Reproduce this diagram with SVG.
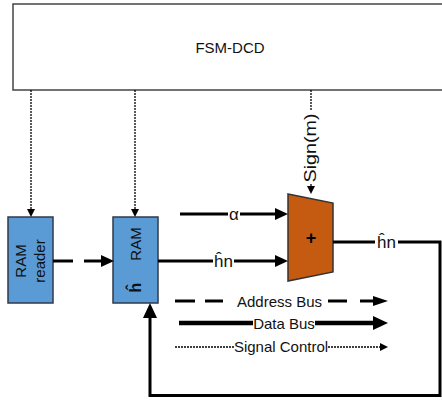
<svg xmlns="http://www.w3.org/2000/svg" width="442" height="401" viewBox="0 0 442 401">
<style>
text{font-family:"Liberation Sans",Arial,sans-serif;fill:#111;}
.t15{font-size:15px;}
.lbl{font-size:17px;}
.data{stroke:#000;stroke-width:3;fill:none;}
.thick{stroke:#000;stroke-width:4.5;fill:none;}
.dash{stroke:#000;stroke-width:3;fill:none;}
.ctl{stroke:#000;stroke-width:1.3;stroke-dasharray:2 1;fill:none;}
.ram{fill:#5B9BD5;stroke:#2F3A4A;stroke-width:1.5;}
</style>
<defs>
<marker id="aCtl" markerUnits="userSpaceOnUse" markerWidth="8" markerHeight="8" refX="0" refY="4" orient="auto"><path d="M0,0L8,4L0,8z" fill="#000"/></marker>
<marker id="aData" markerUnits="userSpaceOnUse" markerWidth="14" markerHeight="12" refX="0" refY="6" orient="auto"><path d="M0,0L13,6L0,12z" fill="#000"/></marker>
<marker id="aBig" markerUnits="userSpaceOnUse" markerWidth="16" markerHeight="14" refX="0" refY="7" orient="auto"><path d="M0,0L15,7L0,14z" fill="#000"/></marker>
<marker id="aAddr" markerUnits="userSpaceOnUse" markerWidth="16" markerHeight="10" refX="0" refY="5" orient="auto"><path d="M0,0L15,5L0,10z" fill="#000"/></marker>
</defs>

<g id="fsm-dcd">
<rect x="13" y="4" width="440" height="86" fill="#fff" stroke="#444" stroke-width="1.5"/>
<text class="t15" x="230" y="53" text-anchor="middle">FSM-DCD</text>
</g>

<g id="ram-reader">
<rect class="ram" x="8" y="217" width="45" height="86"/>
<text class="t15" transform="rotate(-90 26 261)" x="26" y="261" text-anchor="middle">RAM</text>
<text class="t15" transform="rotate(-90 44.5 261)" x="44.5" y="261" text-anchor="middle">reader</text>
</g>

<g id="ram">
<rect class="ram" x="113" y="217" width="45" height="86"/>
<text class="t15" transform="rotate(-90 140.5 244)" x="140.5" y="244" text-anchor="middle">RAM</text>
<text transform="rotate(-90 141 287.5)" x="141" y="287.5" text-anchor="middle" style="font-size:16px;font-weight:bold;">ĥ</text>
</g>

<g id="adder">
<path d="M288,194L333,203L333,272L288,281z" fill="#C55A11" stroke="#333" stroke-width="1.5"/>
<text x="311" y="244" text-anchor="middle" style="font-size:18px;font-weight:bold;fill:#000;">+</text>
</g>

<g id="connectors">
<line class="ctl" x1="31" y1="90" x2="31" y2="209" marker-end="url(#aCtl)"/>
<line class="ctl" x1="135" y1="90" x2="135" y2="209" marker-end="url(#aCtl)"/>
<line class="ctl" x1="311" y1="90" x2="311" y2="111"/>
<line class="ctl" x1="311" y1="184" x2="311" y2="186" marker-end="url(#aCtl)"/>
<text transform="rotate(-90 315.5 148)" x="315.5" y="148" text-anchor="middle" style="font-size:16px;" textLength="69" lengthAdjust="spacingAndGlyphs">Sign(m)</text>

<line class="dash" x1="53" y1="261" x2="73" y2="261"/>
<line class="dash" x1="84" y1="261" x2="101" y2="261" marker-end="url(#aData)"/>

<line class="data" x1="180" y1="214" x2="228" y2="214"/>
<line class="data" x1="240" y1="214" x2="275" y2="214" marker-end="url(#aData)"/>
<text class="lbl" x="234" y="219.5" text-anchor="middle">α</text>

<line class="data" x1="158" y1="261" x2="213" y2="261"/>
<line class="data" x1="234" y1="261" x2="275" y2="261" marker-end="url(#aData)"/>
<text class="lbl" x="223.5" y="267" text-anchor="middle">ĥn</text>

<line class="data" x1="333" y1="242" x2="375" y2="242"/>
<polyline class="data" points="398,242 440,242 440,395.5 150,395.5 150,318" marker-end="url(#aBig)"/>
<text class="lbl" x="386.5" y="248" text-anchor="middle">ĥn</text>
</g>

<g id="legend">
<line class="dash" x1="175" y1="301" x2="195" y2="301"/>
<line class="dash" x1="205" y1="301" x2="223" y2="301"/>
<line class="dash" x1="328" y1="301" x2="347" y2="301"/>
<line class="dash" x1="360" y1="301" x2="373" y2="301" marker-end="url(#aAddr)"/>
<text class="t15" x="279.5" y="306.5" text-anchor="middle">Address Bus</text>

<line class="thick" x1="179" y1="323" x2="253" y2="323"/>
<line class="thick" x1="315" y1="323" x2="373" y2="323" marker-end="url(#aBig)"/>
<text class="t15" x="284" y="328.5" text-anchor="middle">Data Bus</text>

<line class="ctl" x1="175" y1="347" x2="234" y2="347"/>
<line class="ctl" x1="328" y1="347" x2="380" y2="347" marker-end="url(#aCtl)"/>
<text class="t15" x="281" y="352" text-anchor="middle">Signal Control</text>
</g>
</svg>
